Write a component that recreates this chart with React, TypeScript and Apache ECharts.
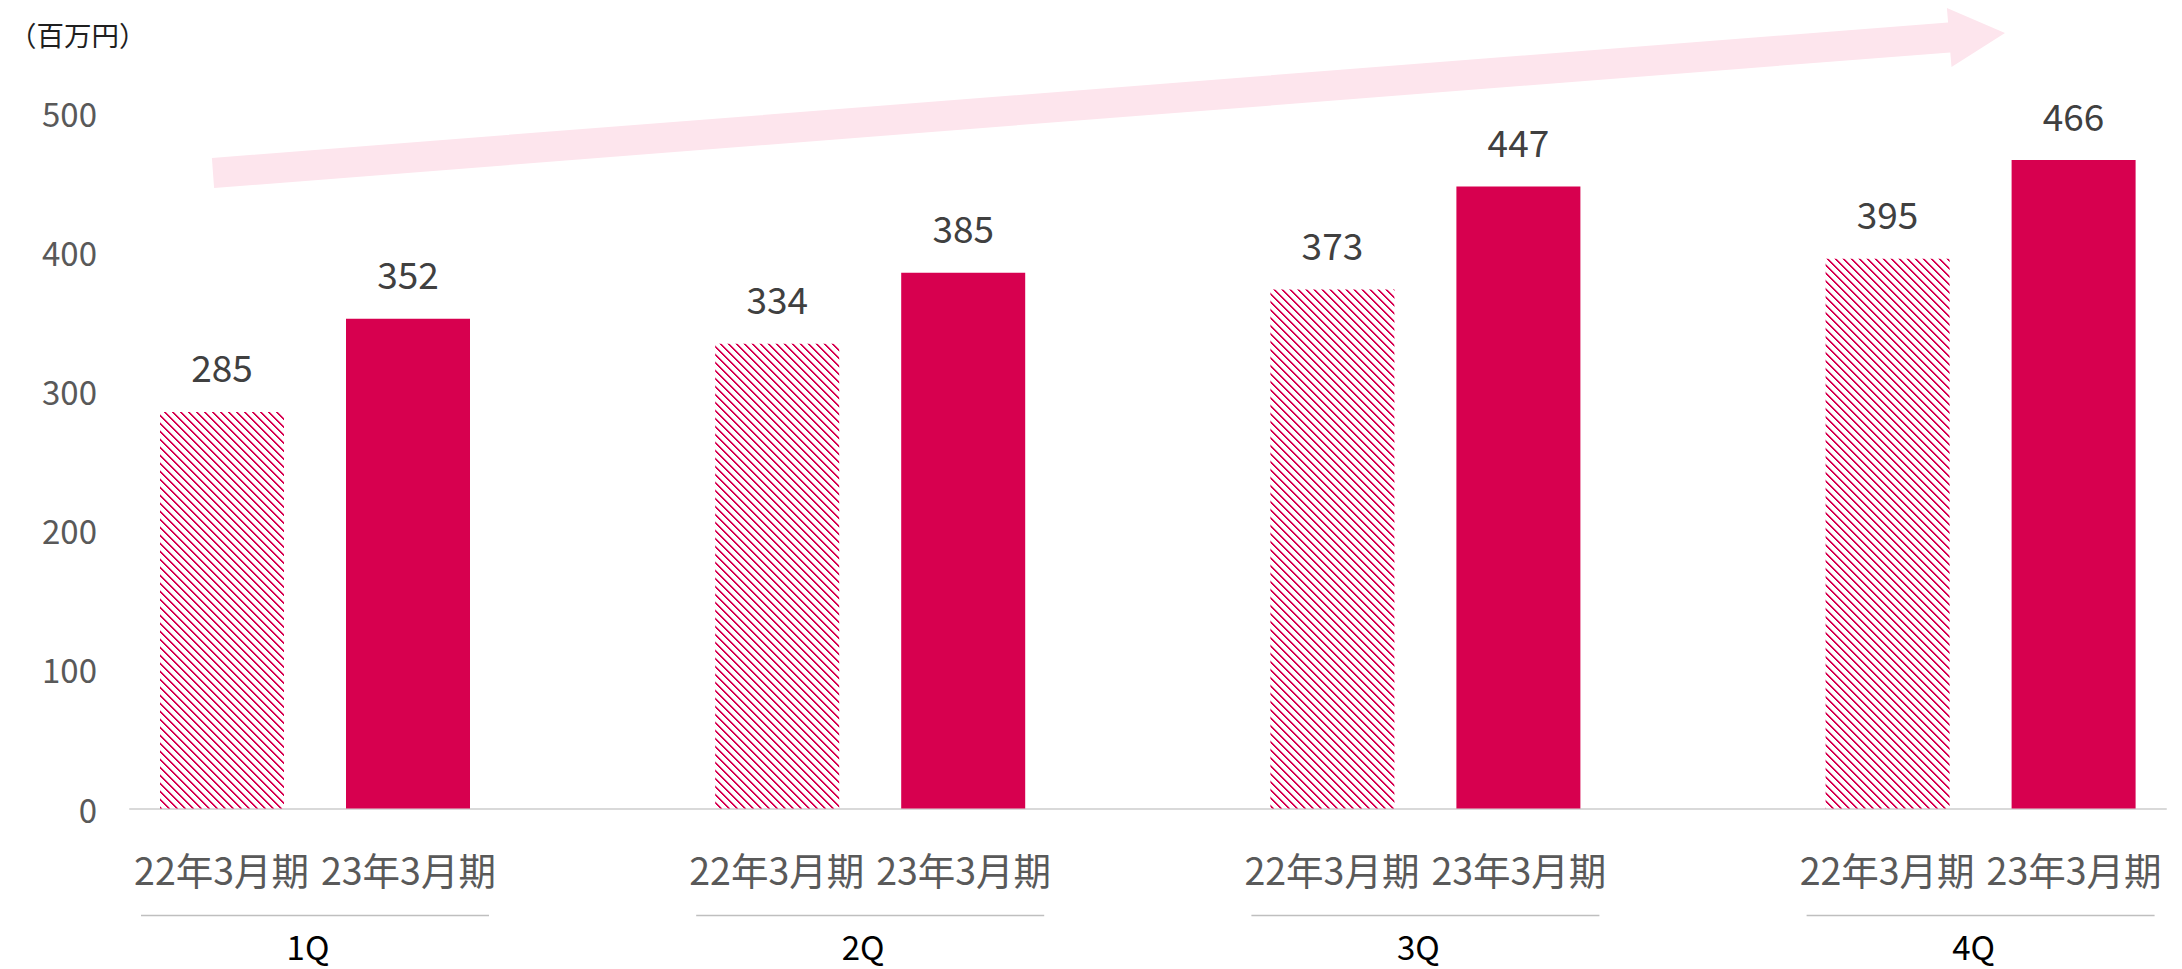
import React, { useEffect, useRef } from "react";
import * as echarts from "echarts";

const quarters = ["1Q", "2Q", "3Q", "4Q"];
const periods = ["22年3月期", "23年3月期"];
const fy22Values = [285, 334, 373, 395];
const fy23Values = [352, 385, 447, 466];
const yMin = 0;
const yMax = 500;
const yInterval = 100;
const unitLabel = "（百万円）";

const FONT = "'Noto Sans CJK JP', 'Noto Sans', sans-serif";
const RED = "#d7004f";

function makeHatch(): HTMLCanvasElement {
  const c = document.createElement("canvas");
  c.width = 8;
  c.height = 8;
  const ctx = c.getContext("2d")!;
  for (let y = 0; y < 8; y++) {
    ctx.fillStyle = RED;
    ctx.fillRect(y, y, 1, 1);
    ctx.fillRect((y + 1) % 8, y, 1, 1);
    ctx.fillStyle = "#f3b3c9";
    ctx.fillRect((y + 2) % 8, y, 1, 1);
  }
  return c;
}

export default function App() {
  const ref = useRef<HTMLDivElement>(null);
  useEffect(() => {
    if (!ref.current) return;
    const chart = echarts.init(ref.current, null, { renderer: "svg" });
    const hatch = makeHatch();
    const gridTop = 112.7;
    const gridBottom = 969 - 808.5;
    const gridHeight = 808.5 - gridTop;
    chart.setOption({
      animation: false,
      backgroundColor: "#ffffff",
      title: {
        text: unitLabel,
        left: 4,
        top: 15,
        textStyle: { fontSize: 27.5, fontWeight: "normal", color: "#1f1f1f", fontFamily: FONT },
      },
      grid: [
        { left: 37.4, width: 2220.8, top: gridTop, height: gridHeight, outerBoundsMode: "none", containLabel: false },
        { left: 130, right: 16, top: gridTop, bottom: gridBottom, outerBoundsMode: "none", containLabel: false },
      ],
      xAxis: [
        {
          type: "category",
          gridIndex: 0,
          data: quarters,
          axisLine: { show: false },
          axisTick: { show: false },
          axisLabel: {
            interval: 0,
            margin: 37,
            fontFamily: FONT,
            formatter: (v: string) =>
              `{p|${periods[0]}}{g| }{p|${periods[1]}}\n{l| }\n{q|${v}}`,
            rich: {
              p: { fontSize: 37.5, color: "#595959", lineHeight: 46, fontFamily: FONT },
              g: { width: 12, fontSize: 12 },
              l: { width: 348, height: 1.5, backgroundColor: "#bfbfbf", lineHeight: 48, fontSize: 2 },
              q: { fontSize: 33, color: "#000000", lineHeight: 12, fontFamily: FONT, padding: [0, 14, 0, 0] },
            },
          },
        },
        {
          type: "value",
          gridIndex: 1,
          min: 0,
          max: 1,
          axisLine: { show: true, lineStyle: { color: "#d9d9d9", width: 2 } },
          axisTick: { show: false },
          axisLabel: { show: false },
          splitLine: { show: false },
        },
      ],
      yAxis: [
        {
          type: "value",
          gridIndex: 0,
          min: yMin,
          max: yMax,
          interval: yInterval,
          show: false,
        },
        {
          type: "value",
          gridIndex: 1,
          min: yMin,
          max: yMax,
          interval: yInterval,
          axisLine: { show: false },
          axisTick: { show: false },
          splitLine: { show: false },
          axisLabel: { margin: 33, fontSize: 33, color: "#595959", fontFamily: FONT, padding: [0, 0, 3, 0] },
        },
      ],
      graphic: [
        {
          type: "polygon",
          silent: true,
          z: -1,
          shape: {
            points: [
              [211.9, 158.0],
              [1948.1, 22.4],
              [1946.9, 7.9],
              [2005, 33],
              [1951.5, 66.9],
              [1950.3, 52.4],
              [214.1, 188.0],
            ],
          },
          style: { fill: "#fde5ed" },
        },
      ],
      series: [
        {
          name: periods[0],
          type: "bar",
          xAxisIndex: 0,
          yAxisIndex: 0,
          data: fy22Values,
          barWidth: 124,
          barGap: "50%",
          itemStyle: {
            color: { image: hatch, repeat: "repeat", imageWidth: 8, imageHeight: 8 } as any,
          },
          label: { show: true, position: "top", distance: 27, fontSize: 37, color: "#404040", fontFamily: FONT },
        },
        {
          name: periods[1],
          type: "bar",
          xAxisIndex: 0,
          yAxisIndex: 0,
          data: fy23Values,
          barWidth: 124,
          barGap: "50%",
          itemStyle: { color: RED },
          label: { show: true, position: "top", distance: 27, fontSize: 37, color: "#404040", fontFamily: FONT },
        },
      ],
    });
    return () => chart.dispose();
  }, []);
  return (
    <div
      ref={ref}
      style={{ position: "fixed", left: 0, top: 0, width: 2182, height: 969, background: "#fff" }}
    />
  );
}
